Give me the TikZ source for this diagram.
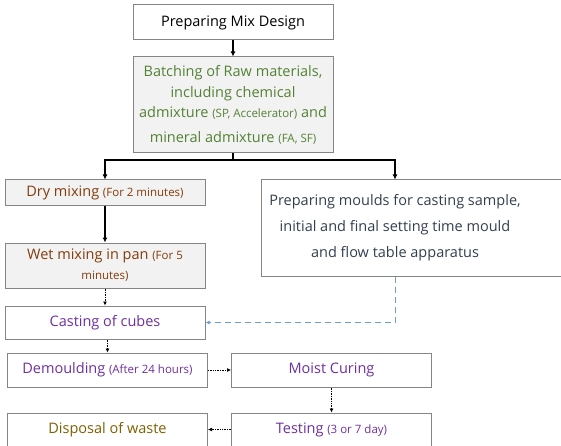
\documentclass[tikz,border=0pt]{standalone}
\usepackage{fontspec}
\setmainfont{Open Sans}
\usetikzlibrary{positioning,arrows.meta}

\definecolor{boxline}{HTML}{858585}
\definecolor{boxfill}{HTML}{F2F2F2}
\definecolor{batchgreen}{HTML}{548235}
\definecolor{mixbrown}{HTML}{843C0C}
\definecolor{mouldslate}{HTML}{323F4F}
\definecolor{castpurple}{HTML}{7030A0}
\definecolor{wasteolive}{HTML}{7F6000}
\definecolor{linkblue}{HTML}{6E9DD3}

\newcommand{\note}[1]{{\fontsize{11.5}{13}\selectfont #1}}

\begin{document}
\begin{tikzpicture}[x=1pt, y=1pt,
    box/.style = {draw=boxline, line width=1pt, fill=white, minimum width=200pt,
                  inner sep=2pt, align=center, font=\fontsize{14.5}{17}\selectfont},
    shaded/.style = {box, fill=boxfill},
    flow/.style = {-{Latex[length=5pt,width=5pt]}, line width=1.4pt},
    dots/.style = {-{Latex[length=4pt,width=4pt]}, densely dotted, line width=0.7pt},
    link/.style = {-{Latex[length=4pt,width=4pt]}, draw=linkblue, line width=1pt,
                   dash pattern=on 6pt off 4pt}]
  \useasboundingbox (0,0) rectangle (561,-446);

  % main column
  \node[box, minimum height=35pt] (mix) at (233,-22.5) {Preparing Mix Design};
  \node[shaded, minimum height=96pt, text=batchgreen,
        font=\fontsize{14.5}{20.5}\selectfont, below=16pt of mix] (batch)
        {Batching of Raw materials,\\ including chemical\\
         admixture \note{(SP, Accelerator)} and\\[4pt] mineral admixture \note{(FA, SF)}};

  \coordinate (fork) at (233,-160);
  \coordinate (forkR) at (395,-160);

  % left branch
  \node[shaded, minimum height=25pt, text=mixbrown] (dry) at (105,-192.5)
        {Dry mixing \note{(For 2 minutes)}};
  \node[shaded, minimum height=45pt, text=mixbrown, font=\fontsize{14.5}{20}\selectfont,
        below=37pt of dry] (wet) {Wet mixing in pan \note{(For 5}\\ \note{minutes)}};
  \node[box, minimum height=33pt, text=castpurple, below=17pt of wet] (cast)
        {Casting of cubes};
  \node[box, minimum height=34pt, text=castpurple] (demould) at (107.5,-370)
        {Demoulding \note{(After 24 hours)}};
  \node[box, minimum height=34pt, text=castpurple, right=23pt of demould] (moist)
        {Moist Curing};
  \node[box, minimum height=33pt, text=castpurple, below=25pt of moist] (test)
        {Testing \note{(3 or 7 day)}};
  \node[box, minimum height=33pt, text=wasteolive, left=23pt of test] (waste)
        {Disposal of waste};

  % right branch: the frame runs on past the page edge
  \node[box, draw=none, fill=none, minimum width=266pt, minimum height=96pt,
        text=mouldslate, font=\fontsize{14.5}{26}\selectfont] (moulds) at (395,-228)
        {Preparing moulds for casting sample,\\ initial and final setting time mould\\
         and flow table apparatus};
  \draw[draw=boxline, line width=1pt] (moulds.south west) rectangle ([xshift=40pt]moulds.north east);

  % connectors
  \draw[flow] (mix) -- (batch);
  \draw[line width=1.4pt] (batch.south) -- (fork);
  \draw[flow] (fork) -| (dry.north);
  \draw[flow] (fork) -| (forkR |- moulds.north);
  \draw[flow] (dry) -- (wet);
  \draw[dots] (wet) -- (cast);
  \draw[dots] (cast.south -| demould) -- (demould);
  \draw[dots] (demould) -- (moist);
  \draw[dots] (moist) -- (test);
  \draw[dots] (test) -- (waste);
  \draw[link] (forkR |- moulds.south) |- (cast.east);
\end{tikzpicture}
\end{document}
